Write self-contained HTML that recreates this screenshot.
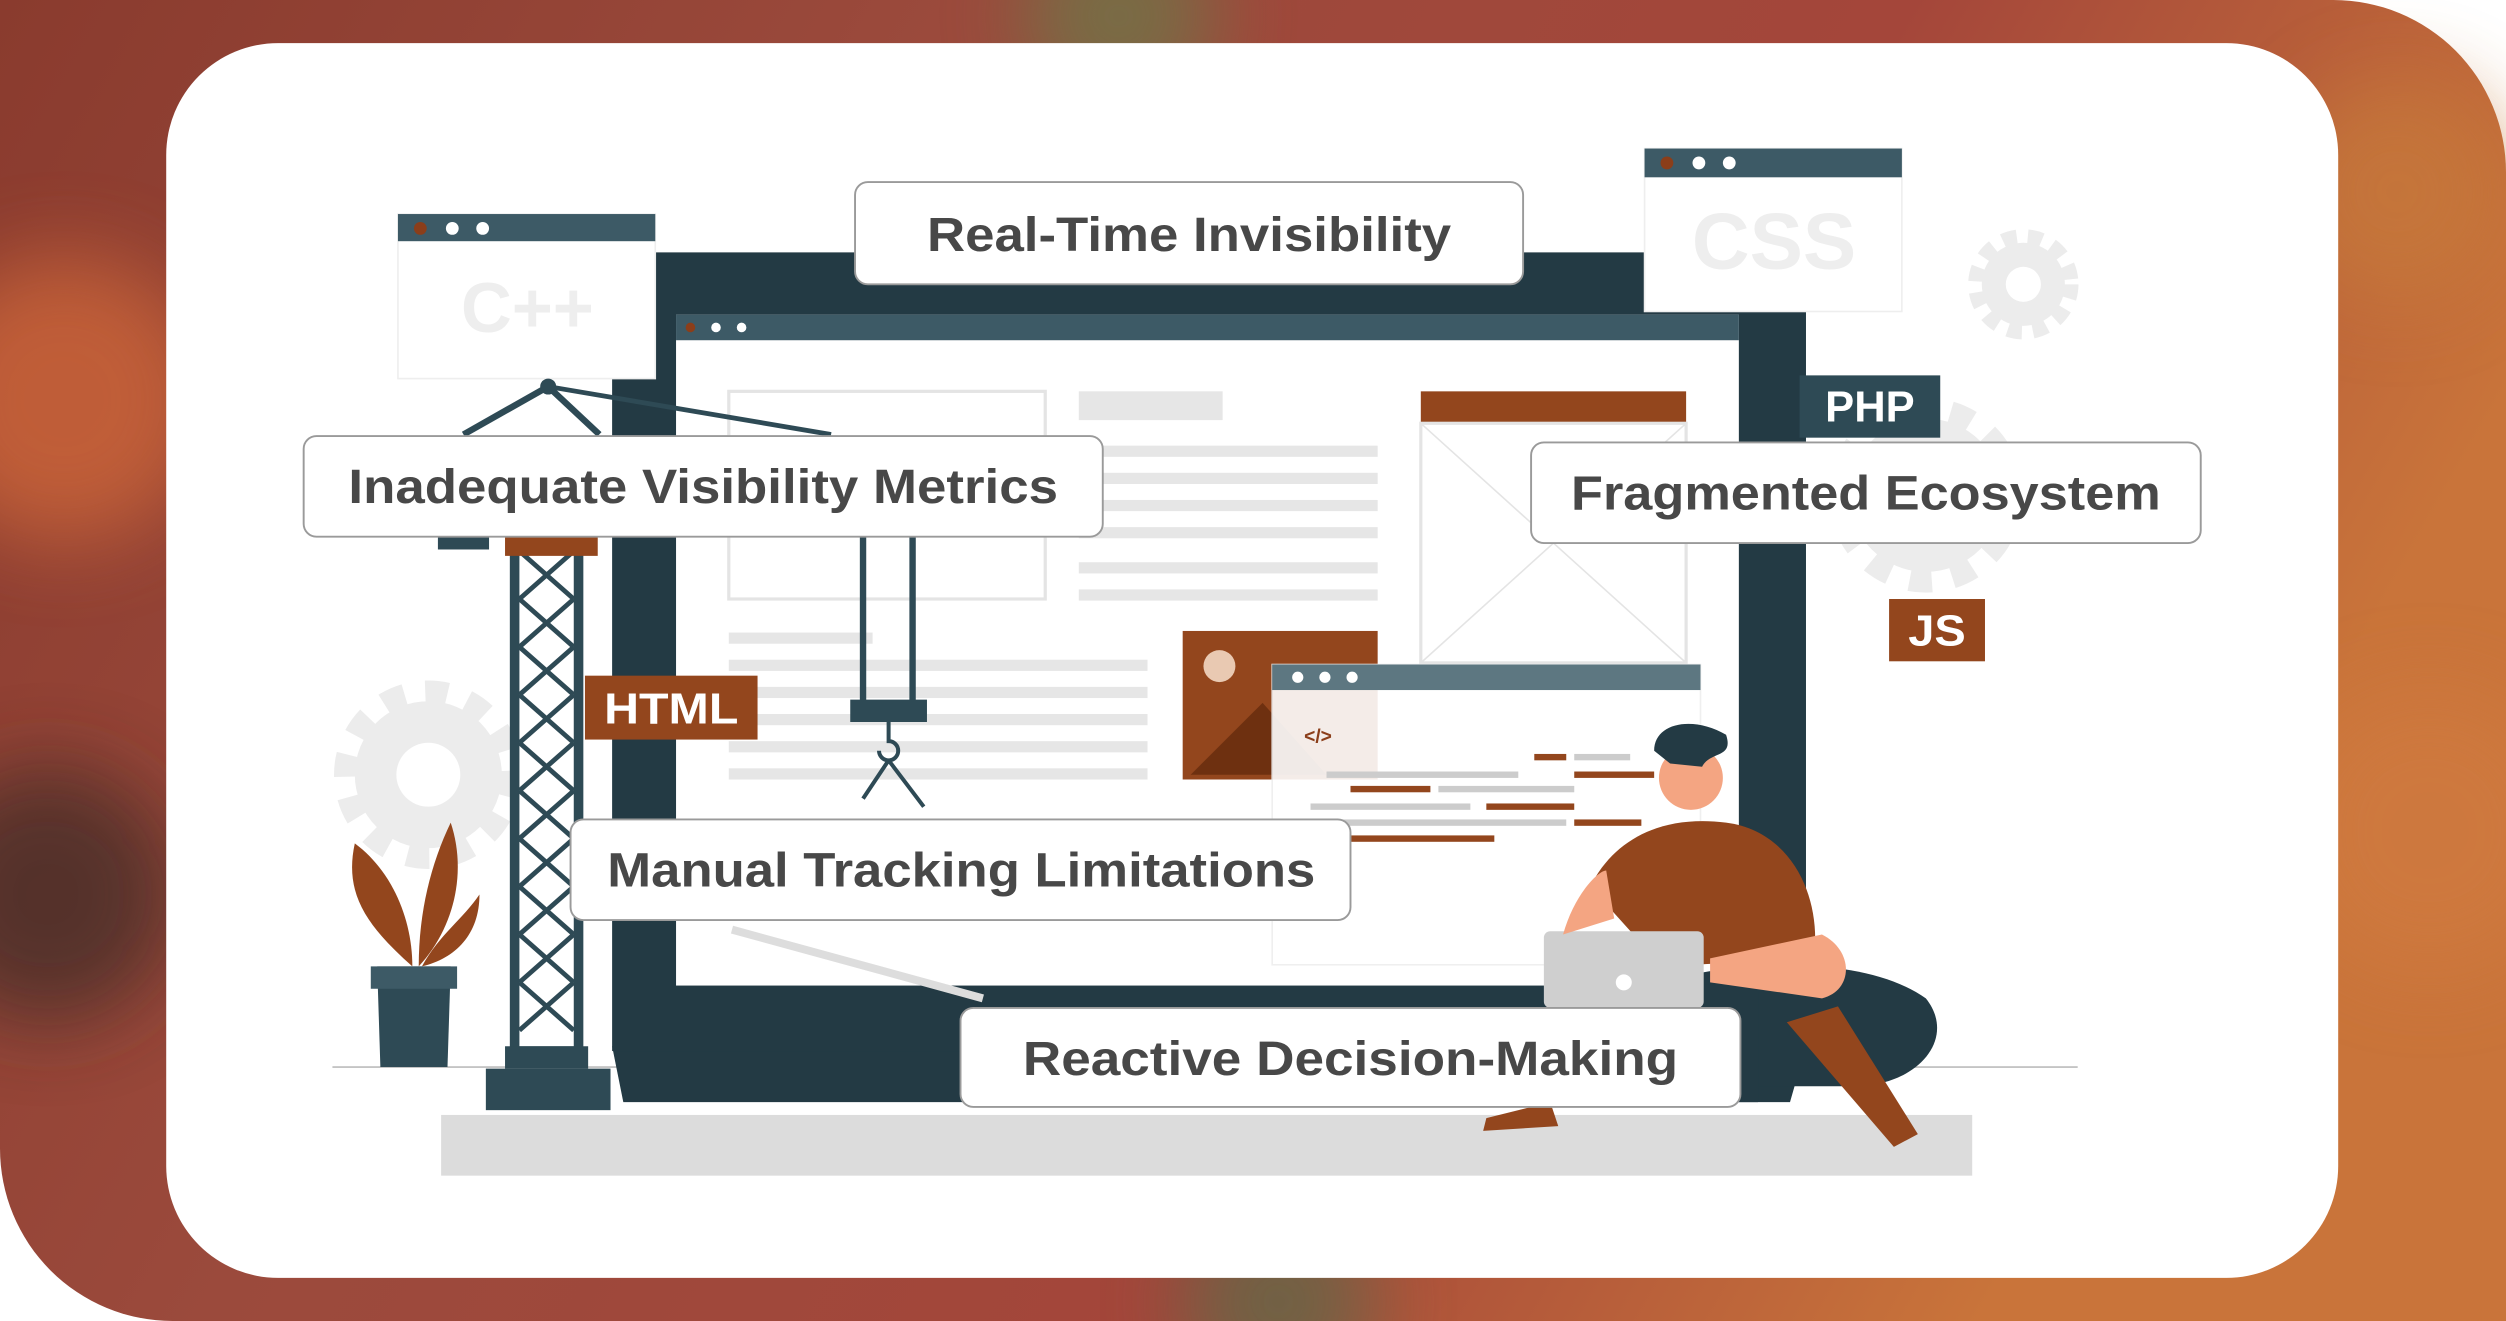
<!DOCTYPE html>
<html><head><meta charset="utf-8"><style>
html,body{margin:0;padding:0;width:2506px;height:1321px;overflow:hidden;background:#fff;position:relative}
svg{display:block;position:absolute;left:0;top:0}
text{font-family:"Liberation Sans",sans-serif;font-weight:bold}
</style></head><body>
<svg width="2506" height="1321" viewBox="0 0 1568 827" preserveAspectRatio="none" xmlns="http://www.w3.org/2000/svg">
<defs>
<linearGradient id="bg" x1="0" y1="0" x2="1" y2="0.3">
<stop offset="0" stop-color="#8a3b2e"/><stop offset="0.35" stop-color="#9b4a3c"/><stop offset="0.7" stop-color="#a4463a"/><stop offset="1" stop-color="#c9743a"/>
</linearGradient>
<filter id="bl"><feGaussianBlur stdDeviation="25"/></filter>
</defs>
<path d="M0 0 H1460 A108 108 0 0 1 1568 108 V827 H108 A108 108 0 0 1 0 719 Z" fill="url(#bg)"/>
<g filter="url(#bl)" opacity="0.7">
<circle cx="40" cy="250" r="90" fill="#d46a3a"/>
<circle cx="30" cy="560" r="80" fill="#3a2a28"/>
<circle cx="700" cy="10" r="60" fill="#6a7a4a"/>
<circle cx="1520" cy="520" r="90" fill="#d07a40"/>
<circle cx="1500" cy="120" r="70" fill="#c77a3a"/>
<circle cx="800" cy="815" r="60" fill="#5a6a48"/>
</g>
<rect x="104" y="27" width="1359" height="773" rx="70" fill="#fff"/>

<!-- gears -->
<g fill="#ececec">
<circle cx="268" cy="485" r="46"/><circle cx="1266" cy="178" r="26"/><circle cx="1205" cy="310" r="48"/>
</g>
<g fill="none" stroke="#ececec">
<circle cx="268" cy="485" r="52" stroke-width="14" stroke-dasharray="14 13"/>
<circle cx="1266" cy="178" r="30" stroke-width="9" stroke-dasharray="9 7"/>
<circle cx="1205" cy="310" r="54" stroke-width="14" stroke-dasharray="14 13"/>
</g>
<circle cx="268" cy="485" r="20" fill="#fff"/><circle cx="1266" cy="178" r="11" fill="#fff"/>

<!-- base -->
<rect x="276" y="698" width="958" height="38" fill="#dcdcdc"/>
<line x1="208" y1="668" x2="1300" y2="668" stroke="#bbb" stroke-width="1"/>
<polygon points="383,655 1130,655 1120,690 390,690" fill="#233a44"/>
<rect x="383" y="158" width="747" height="500" fill="#233a44"/>
<rect x="423" y="197" width="665" height="420" fill="#fff"/>
<rect x="423" y="197" width="665" height="16" fill="#3d5a66"/>
<circle cx="432" cy="205" r="3" fill="#8b3e1a"/><circle cx="448" cy="205" r="3" fill="#fff"/><circle cx="464" cy="205" r="3" fill="#fff"/>
<g fill="#e6e6e6">
<rect x="456" y="245" width="198" height="130" fill="none" stroke="#e4e4e4" stroke-width="2"/>
<rect x="675" y="245" width="90" height="18"/>
<rect x="675" y="279" width="187" height="7"/><rect x="675" y="296" width="187" height="7"/><rect x="675" y="313" width="187" height="7"/><rect x="675" y="330" width="187" height="7"/><rect x="675" y="352" width="187" height="7"/><rect x="675" y="369" width="187" height="7"/>
<rect x="456" y="396" width="90" height="7"/><rect x="456" y="413" width="262" height="7"/><rect x="456" y="430" width="262" height="7"/><rect x="456" y="447" width="262" height="7"/><rect x="456" y="464" width="262" height="7"/><rect x="456" y="481" width="262" height="7"/>
</g>
<rect x="889" y="245" width="166" height="20" fill="#93461d"/>
<rect x="889" y="265" width="166" height="150" fill="none" stroke="#e4e4e4" stroke-width="2"/>
<line x1="889" y1="265" x2="1055" y2="415" stroke="#e4e4e4"/><line x1="1055" y1="265" x2="889" y2="415" stroke="#e4e4e4"/>
<rect x="740" y="395" width="122" height="93" fill="#93461d"/>
<circle cx="763" cy="417" r="10" fill="#e9c9b2"/>
<polygon points="745,485 790,440 830,485" fill="#6e3010"/>
<rect x="796" y="416" width="268" height="188" fill="#fff" opacity="0.9" stroke="#eee"/>
<rect x="796" y="416" width="268" height="16" fill="#5d7781"/>
<circle cx="812" cy="424" r="3.5" fill="#fff"/><circle cx="829" cy="424" r="3.5" fill="#fff"/><circle cx="846" cy="424" r="3.5" fill="#fff"/>
<text x="816" y="465" font-size="12" fill="#8b3e1a">&lt;/&gt;</text>
<g fill="#93461d"><rect x="960" y="472" width="20" height="4"/><rect x="845" y="492" width="50" height="4"/><rect x="930" y="503" width="55" height="4"/><rect x="985" y="513" width="42" height="4"/><rect x="845" y="523" width="90" height="4"/><rect x="985" y="483" width="50" height="4"/></g>
<g fill="#ccc"><rect x="985" y="472" width="35" height="4"/><rect x="830" y="483" width="120" height="4"/><rect x="900" y="492" width="85" height="4"/><rect x="820" y="503" width="100" height="4"/><rect x="830" y="513" width="150" height="4"/></g>

<rect x="249" y="134" width="161" height="103" fill="#fff" stroke="#eee"/>
<rect x="249" y="134" width="161" height="17" fill="#3d5a66"/>
<circle cx="263" cy="143" r="4" fill="#8b3e1a"/><circle cx="283" cy="143" r="4" fill="#fff"/><circle cx="302" cy="143" r="4" fill="#fff"/>
<text x="330" y="208" font-size="44" fill="#eeeeee" text-anchor="middle" font-weight="normal">C++</text>
<rect x="1029" y="93" width="161" height="102" fill="#fff" stroke="#eee"/>
<rect x="1029" y="93" width="161" height="18" fill="#3d5a66"/>
<circle cx="1043" cy="102" r="4" fill="#8b3e1a"/><circle cx="1063" cy="102" r="4" fill="#fff"/><circle cx="1082" cy="102" r="4" fill="#fff"/>
<text x="1110" y="168" font-size="50" fill="#eeeeee" text-anchor="middle" font-weight="normal">CSS</text>

<line x1="343" y1="242" x2="290" y2="272" stroke="#2e4a55" stroke-width="4"/>
<line x1="343" y1="242" x2="375" y2="272" stroke="#2e4a55" stroke-width="4"/>
<line x1="343" y1="242" x2="520" y2="272" stroke="#2e4a55" stroke-width="3"/>
<circle cx="343" cy="242" r="5" fill="#2e4a55"/>
<rect x="322" y="340" width="40" height="318" fill="#fff" stroke="#2e4a55" stroke-width="6"/>
<path d="M325 345 L359 375 M359 345 L325 375 M325 375 L359 405 M359 375 L325 405 M325 405 L359 435 M359 405 L325 435 M325 435 L359 465 M359 435 L325 465 M325 465 L359 495 M359 465 L325 495 M325 495 L359 525 M359 495 L325 525 M325 525 L359 555 M359 525 L325 555 M325 555 L359 585 M359 555 L325 585 M325 585 L359 615 M359 585 L325 615 M325 615 L359 645 M359 615 L325 645" stroke="#2e4a55" stroke-width="3"/>
<rect x="316" y="336" width="58" height="12" fill="#93461d"/>
<rect x="274" y="334" width="32" height="10" fill="#2e4a55"/>
<rect x="316" y="655" width="52" height="14" fill="#2e4a55"/>
<rect x="304" y="669" width="78" height="26" fill="#2e4a55"/>
<line x1="540" y1="336" x2="540" y2="440" stroke="#2e4a55" stroke-width="4"/>
<line x1="571" y1="336" x2="571" y2="440" stroke="#2e4a55" stroke-width="4"/>
<rect x="532" y="438" width="48" height="14" fill="#2e4a55"/>
<path d="M556 452 v12 a6 6 0 1 1 -6 6 M556 476 L540 500 M556 476 L578 505" stroke="#2e4a55" stroke-width="2.5" fill="none"/>
<line x1="458" y1="582" x2="615" y2="625" stroke="#ddd" stroke-width="5"/>

<polygon points="236,605 282,605 280,668 238,668" fill="#2e4a55"/>
<rect x="232" y="605" width="54" height="14" fill="#3d5a66"/>
<path d="M258 605 C230 580 215 560 222 528 C245 545 258 575 258 605Z" fill="#93461d"/>
<path d="M262 605 C262 570 270 540 282 515 C292 545 285 580 262 605Z" fill="#93461d"/>
<path d="M264 605 C275 585 290 575 300 560 C300 585 285 600 264 605Z" fill="#93461d"/>

<path d="M995 555 C1010 525 1040 510 1080 515 C1120 520 1140 560 1135 600 L1040 605Z" fill="#93461d"/>
<path d="M1050 612 C1100 600 1170 600 1205 625 C1225 650 1200 680 1160 680 L1080 680Z" fill="#233a44"/>
<path d="M940 640 C980 615 1050 612 1100 620 L1100 690 L960 690Z" fill="#233a44"/>
<path d="M1118 640 L1150 630 L1200 710 L1185 718 Z" fill="#93461d"/>
<path d="M930 700 L970 690 L975 705 L928 708Z" fill="#93461d"/>
<circle cx="1058" cy="487" r="20" fill="#f4a582"/>
<path d="M1035 470 C1035 452 1060 448 1080 460 C1085 475 1070 470 1065 480 L1045 478 Z" fill="#233a44"/>
<rect x="966" y="583" width="100" height="48" rx="4" fill="#cfcfcf"/>
<circle cx="1016" cy="615" r="5" fill="#fff"/>
<path d="M978 585 C985 560 1000 545 1005 545 L1010 575Z" fill="#f4a582"/>
<path d="M1070 600 L1140 585 C1160 595 1160 620 1140 625 L1070 615Z" fill="#f4a582"/>

<rect x="366" y="423" width="108" height="40" fill="#93461d"/>
<text x="420" y="453" font-size="27" fill="#fff" text-anchor="middle" font-weight="normal" textLength="84" lengthAdjust="spacingAndGlyphs">HTML</text>
<rect x="1126" y="235" width="88" height="39" fill="#2e4a55"/>
<text x="1170" y="264" font-size="27" fill="#fff" text-anchor="middle" font-weight="normal" textLength="56" lengthAdjust="spacingAndGlyphs">PHP</text>
<rect x="1182" y="375" width="60" height="39" fill="#93461d"/>
<text x="1212" y="404" font-size="27" fill="#fff" text-anchor="middle" font-weight="normal" textLength="36" lengthAdjust="spacingAndGlyphs">JS</text>

<g fill="#fff" stroke="#9a9a9a" stroke-width="1.2">
<rect x="535" y="114" width="418" height="64" rx="8"/>
<rect x="190" y="273" width="500" height="63" rx="8"/>
<rect x="958" y="277" width="419" height="63" rx="8"/>
<rect x="357" y="513" width="488" height="63" rx="8"/>
<rect x="601" y="631" width="488" height="62" rx="8"/>
</g>
<g fill="#484848" font-size="30">
<text x="580" y="157" textLength="328" lengthAdjust="spacingAndGlyphs">Real-Time Invisibility</text>
<text x="218" y="315" textLength="444" lengthAdjust="spacingAndGlyphs">Inadequate Visibility Metrics</text>
<text x="983" y="319" textLength="369" lengthAdjust="spacingAndGlyphs">Fragmented Ecosystem</text>
<text x="380" y="555" textLength="443" lengthAdjust="spacingAndGlyphs">Manual Tracking Limitations</text>
<text x="640" y="673" textLength="410" lengthAdjust="spacingAndGlyphs">Reactive Decision-Making</text>
</g>
</svg>
</body></html>
